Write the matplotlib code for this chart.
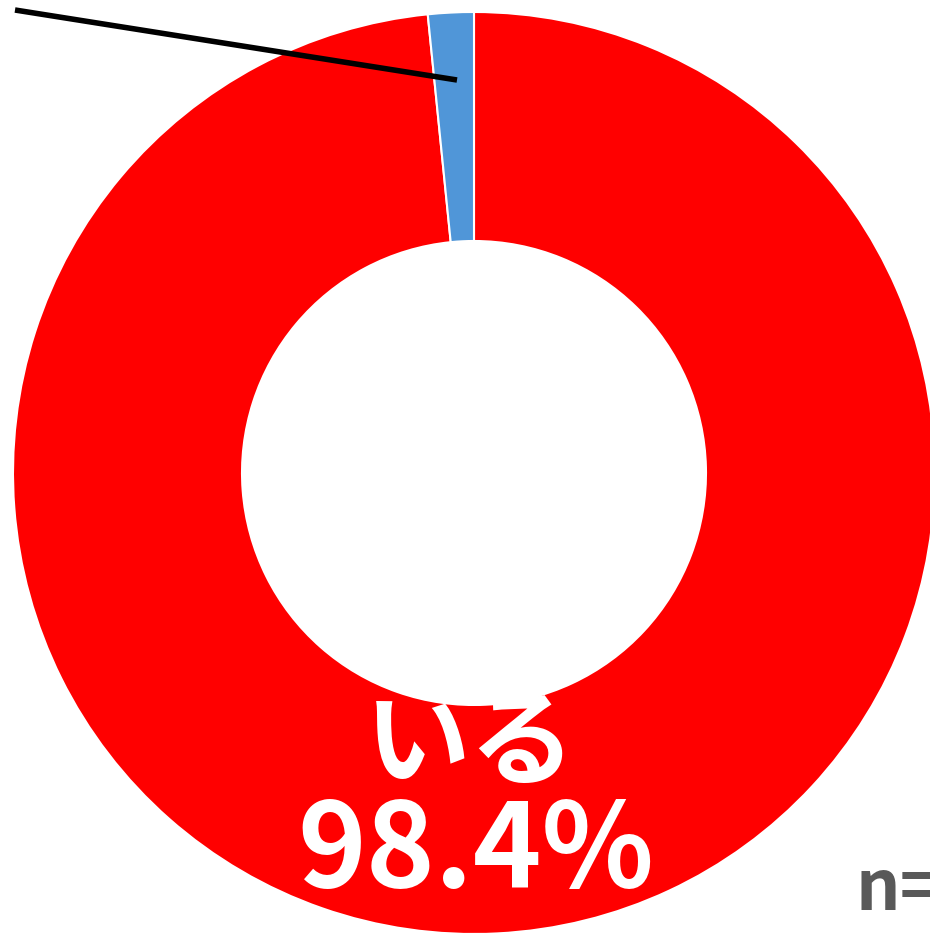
import matplotlib.pyplot as plt

plt.rcParams['font.family'] = ['Noto Sans CJK JP', 'DejaVu Sans']

# データ
labels = ['いる', 'いない']
values = [98.4, 1.6]
colors = ['#ff0000', '#5096d8']
n_label = 'n='

W, H = 930, 933
fig = plt.figure(figsize=(W / 100, H / 100), dpi=100)
ax = fig.add_axes([0, 0, 1, 1])

# ドーナツ（上から時計回り）
cx, cy, r = 474, H - 473, 461
ax.pie(values, colors=colors, startangle=90, counterclock=False,
       center=(cx, cy), radius=r, frame=True,
       wedgeprops=dict(width=229, edgecolor='white', linewidth=1.5))
ax.set_xlim(0, W)
ax.set_ylim(0, H)
ax.set_aspect('equal')
ax.axis('off')

# 小さい方のラベル用引き出し線
ax.plot([15, 457], [H - 10, H - 80], color='black', linewidth=4,
        solid_capstyle='butt')

ax.text(cx - 4, H - 746, labels[0], ha='center', va='center', color='white',
        fontsize=76, fontweight='bold')
ax.text(cx + 2, H - 853, f'{values[0]}%', ha='center', va='center', color='white',
        fontsize=84, fontweight='bold')

ax.text(855, H - 910, n_label, ha='left', va='baseline', color='#595959',
        fontsize=50, fontweight='bold')

fig.savefig('out.png', dpi=100)
